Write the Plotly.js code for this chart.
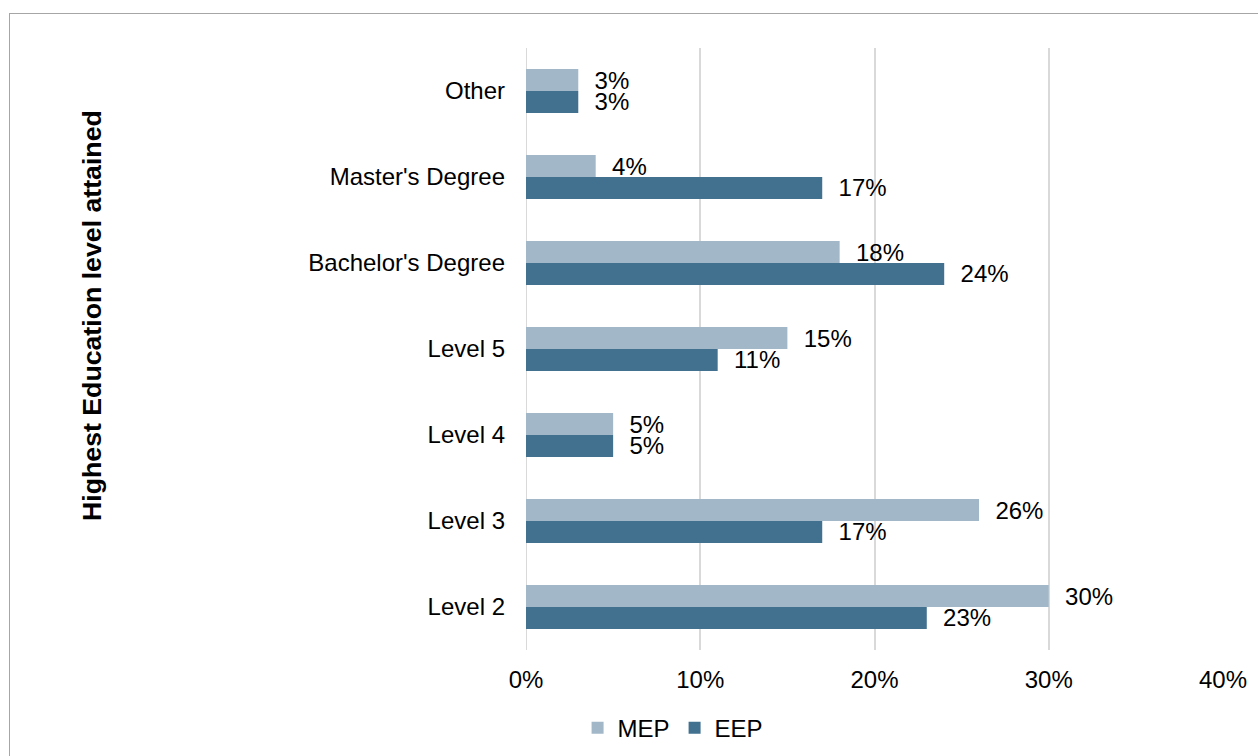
<!DOCTYPE html>
<html>
<head>
<meta charset="utf-8">
<script src="https://cdn.plot.ly/plotly-3.0.1.min.js"></script>
<style>
  html, body { margin: 0; padding: 0; background: #fff; overflow: hidden; }
  #wrap { position: relative; width: 1258px; height: 756px; }
  #chart { position: absolute; left: 0; top: 0; width: 1258px; height: 756px; }
  #frame { position: absolute; left: 9px; top: 13px; width: 1400px; height: 900px; border: 1px solid #A6A6A6; pointer-events: none; }
</style>
</head>
<body>
<div id="wrap">
  <div id="chart"></div>
  <div id="frame"></div>
</div>
<script>
const categories = ["Level 2", "Level 3", "Level 4", "Level 5", "Bachelor's Degree", "Master's Degree", "Other"];
const mepValues = [0.30, 0.26, 0.05, 0.15, 0.18, 0.04, 0.03];
const eepValues = [0.23, 0.17, 0.05, 0.11, 0.24, 0.17, 0.03];
const xTickVals = [0, 0.1, 0.2, 0.3, 0.4];
const xTickText = ["0%", "10%", "20%", "30%", "40%"];
const yTitle = "Highest Education level attained";

const FONT = "Liberation Sans, Arial, sans-serif";
const FS = 24;
const pad = "\u00A0\u00A0";

const eep = {
  type: "bar", orientation: "h", name: "EEP",
  y: categories, x: eepValues,
  marker: { color: "#41718F" },
  text: eepValues.map(v => pad + Math.round(v * 100) + "%"),
  textposition: "outside", cliponaxis: false, constraintext: "none",
  textfont: { family: FONT, size: FS, color: "#000" },
  hoverinfo: "skip", legendrank: 2
};
const mep = {
  type: "bar", orientation: "h", name: "MEP",
  y: categories, x: mepValues,
  marker: { color: "#A2B8C8" },
  text: mepValues.map(v => pad + Math.round(v * 100) + "%"),
  textposition: "outside", cliponaxis: false, constraintext: "none",
  textfont: { family: FONT, size: FS, color: "#000" },
  hoverinfo: "skip", legendrank: 1
};

const layout = {
  width: 1258, height: 756,
  margin: { l: 526, r: 35, t: 48, b: 106, autoexpand: false },
  paper_bgcolor: "#fff", plot_bgcolor: "#fff",
  font: { family: FONT, size: FS, color: "#000" },
  barmode: "group", bargap: 0.49, bargroupgap: 0,
  showlegend: true,
  legend: {
    orientation: "h", x: 0.074, xanchor: "left", y: -0.13, yanchor: "middle",
    font: { family: FONT, size: FS, color: "#000" },
    itemwidth: 30, itemsizing: "constant", tracegroupgap: 0
  },
  xaxis: {
    range: [0, 0.4], tickvals: xTickVals, ticktext: xTickText,
    showgrid: true, gridcolor: "#D9D9D9", gridwidth: 2,
    zeroline: false, showline: false, ticks: "",
    ticklabelstandoff: 13,
    tickfont: { family: FONT, size: FS, color: "#000" },
    fixedrange: true
  },
  yaxis: {
    type: "category", categoryorder: "array", categoryarray: categories,
    showgrid: false, zeroline: false, showline: false, ticks: "",
    ticklabelstandoff: 20,
    tickfont: { family: FONT, size: FS, color: "#000" },
    fixedrange: true
  },
  shapes: [
    { type: "line", xref: "x", yref: "paper", x0: 0, x1: 0, y0: 0, y1: 1, line: { color: "#D9D9D9", width: 2 }, layer: "below" }
  ],
  annotations: [
    {
      text: "<b>" + yTitle + "</b>", xref: "paper", yref: "paper",
      x: (92 - 526) / 697, y: (650 - 316) / 602, xanchor: "center", yanchor: "middle",
      textangle: -90, showarrow: false,
      font: { family: FONT, size: 26.7, color: "#000" }
    }
  ]
};

Plotly.newPlot("chart", [eep, mep], layout, { displayModeBar: false, staticPlot: true });
</script>
</body>
</html>
